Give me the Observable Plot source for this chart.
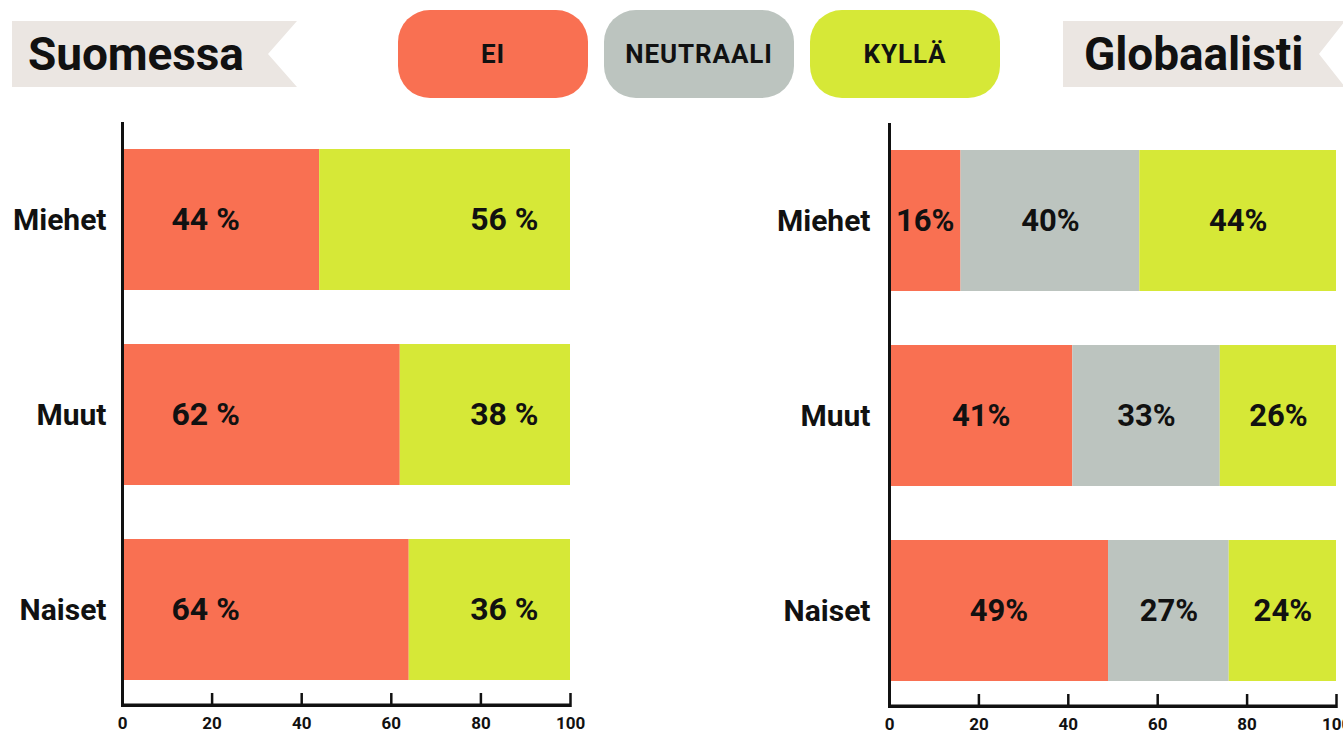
<!DOCTYPE html>
<html>
<head>
<meta charset="utf-8">
<script src="https://cdn.jsdelivr.net/npm/d3@7"></script>
<script src="https://cdn.jsdelivr.net/npm/@observablehq/plot@0.6"></script>
<style>
  html, body { margin: 0; padding: 0; background: #fff; }
  body { width: 1343px; height: 733px; position: relative; overflow: hidden; font-family: Roboto, "Noto Sans", sans-serif; color: #111; }
  .chart { position: absolute; top: 0; }
  .banner { position: absolute; top: 21px; height: 66px; }
  .banner svg { position: absolute; left: 0; top: 0; }
  .banner span { position: absolute; top: 0; line-height: 66px; font-size: 46px; font-weight: 700; color: #111; letter-spacing: -0.1px; }
  .pill { position: absolute; top: 10px; width: 190px; height: 88px; border-radius: 32px; display: flex; align-items: center; justify-content: center; font-size: 26px; font-weight: 700; letter-spacing: 0.9px; color: #111; }
</style>
</head>
<body>
<div id="left" class="chart"></div>
<div id="right" class="chart"></div>
<div id="header"></div>
<script>
// ---- data ----
const groups = ["Miehet", "Muut", "Naiset"];
const answers = ["EI", "NEUTRAALI", "KYLLÄ"];
const answerColors = ["#f97052", "#bcc4bf", "#d6e837"];
const finlandEi = [44, 62, 64];
const finlandKylla = [56, 38, 36];
const globalEi = [16, 41, 49];
const globalNeutral = [40, 33, 27];
const globalKylla = [44, 26, 24];
const xTicks = [0, 20, 40, 60, 80, 100];
const titles = ["Suomessa", "Globaalisti"];

// ---- tables ----
const finland = [];
groups.forEach((g, i) => {
  finland.push({group: g, answer: "EI", value: finlandEi[i]});
  finland.push({group: g, answer: "KYLLÄ", value: finlandKylla[i]});
});
const global = [];
groups.forEach((g, i) => {
  global.push({group: g, answer: "EI", value: globalEi[i]});
  global.push({group: g, answer: "NEUTRAALI", value: globalNeutral[i]});
  global.push({group: g, answer: "KYLLÄ", value: globalKylla[i]});
});

const INK = "#111";
const FONT = "Roboto, 'Noto Sans', sans-serif";

function baseMarks(tickPad) {
  return [
    Plot.tickX(xTicks, {x: d => d, insetTop: 571, stroke: INK, strokeWidth: 2.5}),
    Plot.rect([0], {x1: 0, x2: 100, insetTop: 581.5, insetBottom: 0, fill: INK}),
    Plot.ruleX([0], {stroke: INK, strokeWidth: 3}),
    Plot.axisX({ticks: xTicks, tickSize: 0, tickPadding: 9, fontSize: 17, fontWeight: 700, fill: INK, label: null}),
    Plot.axisY({tickSize: 0, tickPadding: tickPad, fontSize: 30, fontWeight: 700, fill: INK, label: null, dy: 0})
  ];
}

const common = {
  height: 733,
  marginTop: 122,
  marginBottom: 26,
  style: {fontFamily: FONT, background: "transparent", overflow: "visible"},
  x: {domain: [0, 100]},
  y: {domain: groups, paddingInner: 0.277, paddingOuter: 0.138},
  color: {domain: answers, range: answerColors}
};

const leftPlot = Plot.plot({
  ...common,
  width: 600,
  marginLeft: 122,
  marginRight: 30,
  marks: [
    Plot.barX(finland, Plot.stackX({x: "value", y: "group", fill: "answer", order: answers})),
    Plot.text(finland.filter(d => d.answer === "EI"), {y: "group", text: d => `${d.value} %`, frameAnchor: "left", dx: 49, dy: 0, textAnchor: "start", fontSize: 32, fontWeight: 700, fill: INK}),
    Plot.text(finland.filter(d => d.answer === "KYLLÄ"), {y: "group", text: d => `${d.value} %`, frameAnchor: "right", dx: -32, dy: 0, textAnchor: "end", fontSize: 32, fontWeight: 700, fill: INK}),
    ...baseMarks(16)
  ]
});
document.getElementById("left").append(leftPlot);
document.getElementById("left").style.left = "0px";

const rightPlot = Plot.plot({
  ...common,
  width: 683,
  marginLeft: 229,
  marginRight: 7,
  marginTop: 123,
  marginBottom: 25,
  marks: [
    Plot.barX(global, Plot.stackX({x: "value", y: "group", fill: "answer", order: answers})),
    Plot.text(global, Plot.stackX({x: "value", y: "group", z: "answer", order: answers, text: d => `${d.value}%`, dy: 0, fontSize: 31, fontWeight: 700, fill: INK})),
    ...baseMarks(19)
  ]
});
document.getElementById("right").append(rightPlot);
document.getElementById("right").style.left = "660px";

// ---- header: banners + legend ----
const header = document.getElementById("header");
function banner(text, left, width, notch, textLeft) {
  const div = document.createElement("div");
  div.className = "banner";
  div.style.left = left + "px";
  div.style.width = width + "px";
  div.innerHTML = `<svg width="${width}" height="66"><polygon points="0,0 ${width},0 ${width - notch},33 ${width},66 0,66" fill="#ebe6e2"/></svg><span style="left:${textLeft}px">${text}</span>`;
  header.append(div);
}
banner(titles[0], 12, 285, 29, 16);
banner(titles[1], 1063, 282, 26, 21);

const pillLefts = [398, 604, 810];
answers.forEach((a, i) => {
  const p = document.createElement("div");
  p.className = "pill";
  p.style.left = pillLefts[i] + "px";
  p.style.background = answerColors[i];
  p.textContent = a;
  header.append(p);
});
</script>
</body>
</html>
